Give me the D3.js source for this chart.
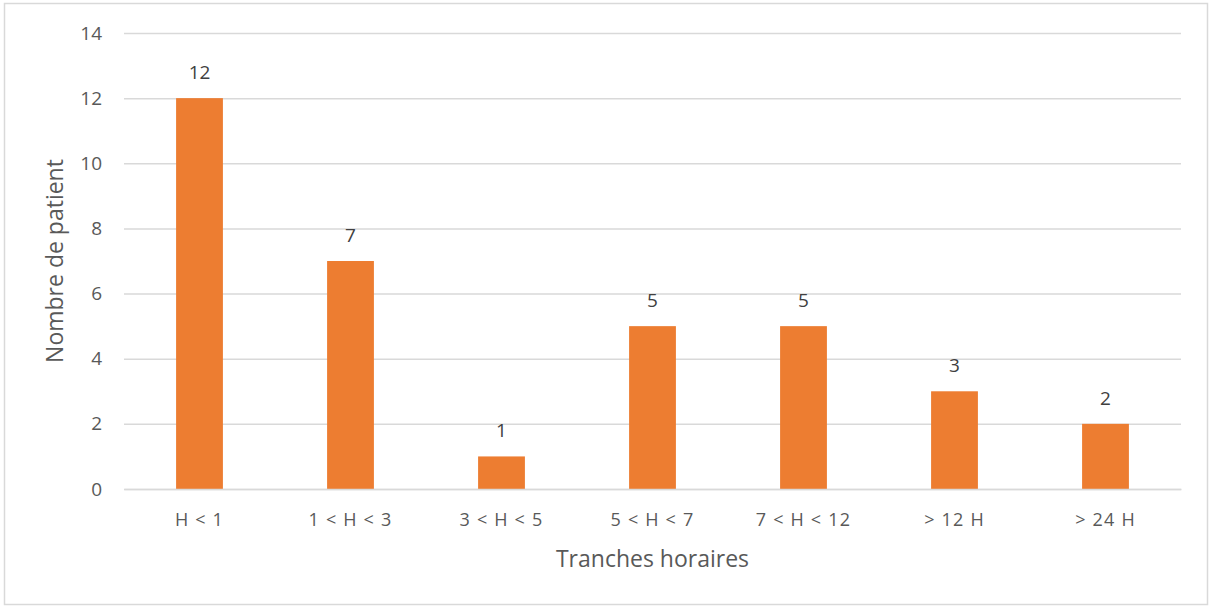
<!DOCTYPE html>
<html>
<head>
<meta charset="utf-8">
<script src="https://cdn.jsdelivr.net/npm/d3@7"></script>
<style>
  body { margin: 0; background: #fff; }
  text { font-family: "Open Sans", sans-serif; }
</style>
</head>
<body>
<script>
// chart data
var categories = ["H < 1", "1 < H < 3", "3 < H < 5", "5 < H < 7", "7 < H < 12", "> 12 H", "> 24 H"];
var patients = [12, 7, 1, 5, 5, 3, 2];
var yTicks = [0, 2, 4, 6, 8, 10, 12, 14];

var svgWidth = 1212;
var svgHeight = 607;

var margin = { top: 33, right: 31, bottom: 118, left: 124 };
var width = svgWidth - margin.left - margin.right;
var height = svgHeight - margin.top - margin.bottom;

var svg = d3.select("body")
  .append("svg")
  .attr("width", svgWidth)
  .attr("height", svgHeight);

// outer border of the chart area
svg.append("rect")
  .attr("x", 4.5)
  .attr("y", 3.5)
  .attr("width", svgWidth - 9)
  .attr("height", svgHeight - 6)
  .attr("fill", "#fff")
  .attr("stroke", "#d9d9d9")
  .attr("stroke-width", 1.5);

var chartGroup = svg.append("g")
  .attr("transform", `translate(${margin.left}, ${margin.top})`);

var xScale = d3.scaleBand()
  .domain(categories)
  .range([0, width])
  .paddingInner(0.69)
  .paddingOuter(0.345);

var yScale = d3.scaleLinear()
  .domain([0, 14])
  .range([height, 0]);

// gridlines + y tick labels
var leftAxis = d3.axisLeft(yScale)
  .tickValues(yTicks)
  .tickSize(-width)
  .tickPadding(22);

var yAxisG = chartGroup.append("g").call(leftAxis);
yAxisG.select(".domain").remove();
yAxisG.selectAll(".tick line")
  .attr("stroke", "#d9d9d9")
  .attr("stroke-width", 1.5);
yAxisG.selectAll(".tick text")
  .attr("fill", "#595959")
  .style("font-size", "19px");

// bars
chartGroup.selectAll(".bar")
  .data(patients)
  .enter()
  .append("rect")
  .attr("class", "bar")
  .attr("x", (d, i) => xScale(categories[i]))
  .attr("y", d => yScale(d))
  .attr("width", xScale.bandwidth())
  .attr("height", d => height - yScale(d))
  .attr("fill", "#ed7d31");

// x axis
var bottomAxis = d3.axisBottom(xScale).tickSize(0).tickPadding(24);
var xAxisG = chartGroup.append("g")
  .attr("transform", `translate(0, ${height})`)
  .call(bottomAxis);
xAxisG.select(".domain")
  .attr("stroke", "#d9d9d9")
  .attr("stroke-width", 1.5);
xAxisG.selectAll(".tick text")
  .attr("fill", "#595959")
  .style("font-size", "18px")
  .style("letter-spacing", "1.2px");

// data labels
chartGroup.selectAll(".lbl")
  .data(patients)
  .enter()
  .append("text")
  .attr("class", "lbl")
  .attr("x", (d, i) => xScale(categories[i]) + xScale.bandwidth() / 2)
  .attr("y", d => yScale(d) - 19)
  .attr("text-anchor", "middle")
  .attr("fill", "#404040")
  .style("font-size", "19px")
  .text(d => d);

// axis titles
chartGroup.append("text")
  .attr("transform", "rotate(-90)")
  .attr("x", -height / 2)
  .attr("y", -61)
  .attr("text-anchor", "middle")
  .attr("fill", "#595959")
  .style("font-size", "23px")
  .text("Nombre de patient");

chartGroup.append("text")
  .attr("x", width / 2)
  .attr("y", height + 78)
  .attr("text-anchor", "middle")
  .attr("fill", "#595959")
  .style("font-size", "23px")
  .text("Tranches horaires");
</script>
</body>
</html>
